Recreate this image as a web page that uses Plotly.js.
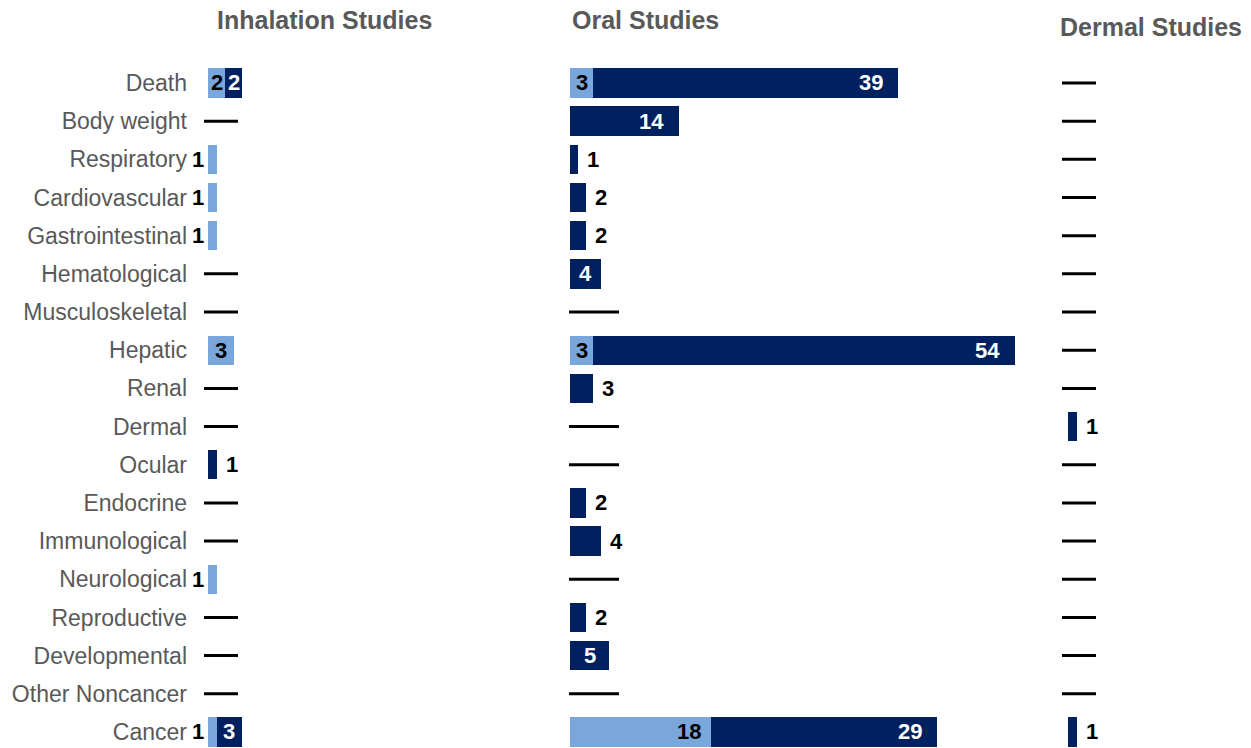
<!DOCTYPE html>
<html>
<head>
<meta charset="utf-8">
<script src="https://cdn.plot.ly/plotly-3.0.1.min.js"></script>
<style>html,body{margin:0;padding:0;background:#fff;}#chart{width:1251px;height:748px;}</style>
</head>
<body>
<div id="chart"></div>
<script>
// ---------------- data ----------------
const categories = ["Death","Body weight","Respiratory","Cardiovascular","Gastrointestinal","Hematological",
  "Musculoskeletal","Hepatic","Renal","Dermal","Ocular","Endocrine","Immunological","Neurological",
  "Reproductive","Developmental","Other Noncancer","Cancer"];

const panelTitles = ["Inhalation Studies","Oral Studies","Dermal Studies"];
const seriesNames = ["Human","Animal"];

const inhalationHuman  = [2,0,1,1,1,0,0,3,0,0,0,0,0,1,0,0,0,1];
const inhalationAnimal = [2,0,0,0,0,0,0,0,0,0,1,0,0,0,0,0,0,3];
const oralHuman        = [3,0,0,0,0,0,0,3,0,0,0,0,0,0,0,0,0,18];
const oralAnimal       = [39,14,1,2,2,4,0,54,3,0,0,2,4,0,2,5,0,29];
const dermalHuman      = [0,0,0,0,0,0,0,0,0,0,0,0,0,0,0,0,0,0];
const dermalAnimal     = [0,0,0,0,0,0,0,0,0,1,0,0,0,0,0,0,0,1];

// ---------------- styles ----------------
const LIGHT = "#79A7DC", DARK = "#002060", GREY = "#595959";
const FONT = "Liberation Sans, Arial, sans-serif";
const W = 1251, H = 748;
// per-panel geometry (pixels): axis start, axis end, pixels per unit, dash centre offset, dash length, title left
const geom = [
  {x0:208,  x1:460,  ppu:8.5,  dashOff:13, dashLen:34, titleX:215,  titleY:20},
  {x0:570,  x1:1040, ppu:7.81, dashOff:24, dashLen:50, titleX:570,  titleY:20},
  {x0:1068, x1:1245, ppu:9.0,  dashOff:11, dashLen:34, titleX:1058, titleY:27}
];
const forceOutside = [[],["Renal","Immunological"],[]];

const panels = [[inhalationHuman,inhalationAnimal],[oralHuman,oralAnimal],[dermalHuman,dermalAnimal]];

const traces = [];
const annotations = [];
const layout = {
  width: W, height: H,
  margin: {l:0, r:0, t:0, b:0},
  barmode: "stack",
  showlegend: false,
  paper_bgcolor: "#fff", plot_bgcolor: "#fff",
  font: {family: FONT, color: GREY},
  annotations: annotations
};

panels.forEach((p, k) => {
  const g = geom[k];
  const xa = k === 0 ? "x" : "x" + (k+1);
  const ya = k === 0 ? "y" : "y" + (k+1);
  const xKey = k === 0 ? "xaxis" : "xaxis" + (k+1);
  const yKey = k === 0 ? "yaxis" : "yaxis" + (k+1);
  const human = p[0], animal = p[1];

  layout[xKey] = {
    domain: [g.x0 / W, g.x1 / W],
    range: [0, (g.x1 - g.x0) / g.ppu],
    visible: false, anchor: ya, fixedrange: true
  };
  layout[yKey] = {
    type: "category", anchor: xa,
    categoryorder: "array", categoryarray: categories,
    range: [17.42, -2.174],
    domain: [0, 1],
    showgrid: false, zeroline: false, showline: false, ticks: "",
    showticklabels: k === 0,
    ticklabelstandoff: 20,
    tickfont: {family: FONT, size: 23, color: GREY},
    fixedrange: true
  };

  [human, animal].forEach((vals, s) => {
    traces.push({
      type: "bar", orientation: "h",
      name: seriesNames[s],
      x: vals, y: categories,
      xaxis: xa, yaxis: ya,
      width: 0.77,
      marker: {color: s === 0 ? LIGHT : DARK, line: {width: 0}},
      hoverinfo: "skip"
    });
  });

  // dashes for empty categories
  const emptyCats = categories.filter((c,i) => human[i] + animal[i] === 0);
  traces.push({
    type: "scatter", mode: "markers",
    x: emptyCats.map(() => g.dashOff / g.ppu), y: emptyCats,
    xaxis: xa, yaxis: ya, cliponaxis: false,
    marker: {symbol: "line-ew", size: g.dashLen / 1.4, color: "#000", line: {width: 3, color: "#000"}},
    hoverinfo: "skip"
  });

  // value labels
  categories.forEach((c, i) => {
    const h = human[i], a = animal[i];
    const base = {xref: xa, yref: ya, y: i, showarrow: false, yanchor: "middle",
                  font: {family: FONT, size: 22, color: "#000", weight: 700}};
    if (h > 0) {
      const wpx = h * g.ppu;
      if (wpx >= 16) {
        if (wpx > 60) annotations.push(Object.assign({}, base, {text: String(h), x: h, xanchor: "right", xshift: -8}));
        else annotations.push(Object.assign({}, base, {text: String(h), x: h / 2, xanchor: "center"}));
      } else {
        annotations.push(Object.assign({}, base, {text: String(h), x: 0, xanchor: "right", xshift: -2}));
      }
    }
    if (a > 0) {
      const wpx = a * g.ppu;
      const out = wpx < 16 || forceOutside[k].indexOf(c) >= 0;
      if (out) {
        annotations.push(Object.assign({}, base, {text: String(a), x: h + a, xanchor: "left", xshift: 7}));
      } else {
        const f = {family: FONT, size: 22, color: "#fff", weight: 700};
        if (wpx > 60) annotations.push(Object.assign({}, base, {text: String(a), x: h + a, xanchor: "right", xshift: -13, font: f}));
        else annotations.push(Object.assign({}, base, {text: String(a), x: h + a / 2, xanchor: "center", font: f}));
      }
    }
  });

  annotations.push({
    xref: "paper", yref: "paper", x: g.titleX / W, y: 1 - g.titleY / H,
    xanchor: "left", yanchor: "middle", showarrow: false,
    text: panelTitles[k],
    font: {family: FONT, size: 25, color: GREY, weight: 700}
  });
});

Plotly.newPlot("chart", traces, layout, {displayModeBar: false, staticPlot: true});
</script>
</body>
</html>
